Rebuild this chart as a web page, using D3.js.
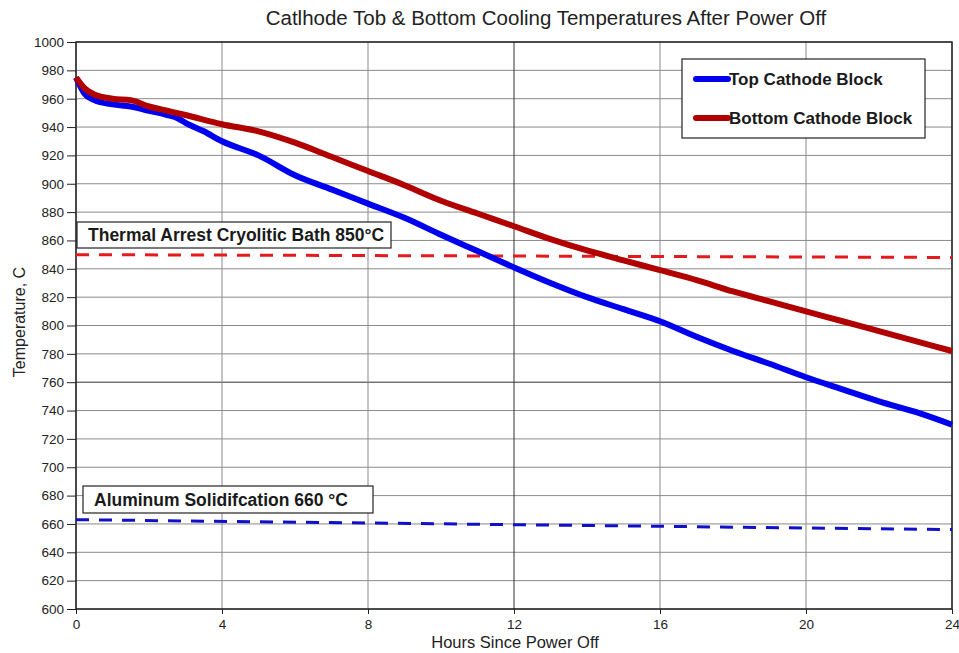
<!DOCTYPE html>
<html>
<head>
<meta charset="utf-8">
<script src="https://cdn.jsdelivr.net/npm/d3@7"></script>
<style>
  body { margin: 0; background: #fff; }
  svg { font-family: "Liberation Sans", Arial, sans-serif; }
</style>
</head>
<body>
<svg id="chart" width="959" height="653"></svg>
<script>
// hours since power off
const hours = [0, 0.25, 0.5, 1, 1.5, 2, 2.5, 2.8, 3, 3.5, 4, 5, 6, 7, 8, 9, 10, 11, 12, 13, 14, 15, 16, 17, 18, 19, 20, 21, 22, 23, 24];
const topTemps = [975, 963, 959, 956, 954.5, 951.5, 948.5, 946, 943, 937, 930, 920, 906, 896, 886, 876, 864, 852.5, 841, 830, 820, 811.5, 803, 792, 782, 773, 763.5, 755, 746.5, 739, 730];
const bottomHours = [0, 0.25, 0.5, 1, 1.5, 2, 2.5, 3, 4, 5, 6, 7, 8, 9, 10, 11, 12, 13, 14, 15, 16, 17, 18, 19, 20, 21, 22, 23, 24];
const bottomTemps = [975, 967, 963, 960, 959, 954.5, 951.5, 948.5, 942, 937, 929, 919, 909, 899, 888, 879, 870, 861, 853, 846, 839, 832, 824, 817, 810, 803, 796, 789, 782];
const xTicks = [0, 4, 8, 12, 16, 20, 24];
const yTicks = d3.range(600, 1001, 20);
// reference lines: [start, end] temperatures over 0..24 h
const bathLine = [850, 848];
const aluLine = [663, 656];

const svg = d3.select("svg#chart");
const margin = { left: 76, right: 7, top: 42, bottom: 44 };
const W = 959, H = 653;

const x = d3.scaleLinear().domain([0, 24]).range([margin.left, W - margin.right]);
const y = d3.scaleLinear().domain([600, 1000]).range([H - margin.bottom, margin.top]);

// grid
svg.append("g").selectAll("line")
   .data(yTicks)
   .enter().append("line")
           .attr("x1", x(0)).attr("x2", x(24))
           .attr("y1", d => y(d)).attr("y2", d => y(d))
           .attr("stroke", d => d === 760 ? "#333" : "#8a8a8a")
           .attr("stroke-width", 1);

svg.append("g").selectAll("line")
   .data(xTicks)
   .enter().append("line")
           .attr("x1", d => x(d)).attr("x2", d => x(d))
           .attr("y1", y(600)).attr("y2", y(1000))
           .attr("stroke", d => d === 12 ? "#333" : "#8a8a8a")
           .attr("stroke-width", 1);

// frame
svg.append("rect")
   .attr("x", x(0)).attr("y", y(1000))
   .attr("width", x(24) - x(0)).attr("height", y(600) - y(1000))
   .attr("fill", "none").attr("stroke", "#222").attr("stroke-width", 1.5);

// axes
const yAxis = svg.append("g")
   .attr("transform", `translate(${x(0)},0)`)
   .call(d3.axisLeft(y).tickValues(yTicks).tickFormat(d3.format("d")).tickSize(9).tickPadding(3));
const xAxis = svg.append("g")
   .attr("transform", `translate(0,${y(600)})`)
   .call(d3.axisBottom(x).tickValues(xTicks).tickSize(5).tickPadding(5));
[yAxis, xAxis].forEach(g => {
    g.select(".domain").remove();
    g.selectAll("line").attr("stroke", "#222");
    g.selectAll("text").attr("fill", "#222")
     .style("font-size", "13.5px")
     .style("font-family", "Liberation Sans, Arial, sans-serif");
});

// dashed reference lines
svg.append("line")
   .attr("x1", x(0)).attr("x2", x(24))
   .attr("y1", y(bathLine[0])).attr("y2", y(bathLine[1]))
   .attr("stroke", "#e41a1c").attr("stroke-width", 3)
   .attr("stroke-dasharray", "13,10");
svg.append("line")
   .attr("x1", x(0)).attr("x2", x(24))
   .attr("y1", y(aluLine[0])).attr("y2", y(aluLine[1]))
   .attr("stroke", "#1010c8").attr("stroke-width", 3)
   .attr("stroke-dasharray", "13,10");

// data lines
const line = d3.line().curve(d3.curveMonotoneX);
svg.append("path")
   .attr("d", line(hours.map((h, i) => [x(h), y(topTemps[i])])))
   .attr("fill", "none").attr("stroke", "#0000ee").attr("stroke-width", 6)
   .attr("stroke-linejoin", "round");
svg.append("path")
   .attr("d", line(bottomHours.map((h, i) => [x(h), y(bottomTemps[i])])))
   .attr("fill", "none").attr("stroke", "#b00000").attr("stroke-width", 6)
   .attr("stroke-linejoin", "round");

// annotation boxes
function labelBox(bx, by, w, h, text) {
    svg.append("rect")
       .attr("x", bx).attr("y", by).attr("width", w).attr("height", h)
       .attr("fill", "#fff").attr("stroke", "#222").attr("stroke-width", 1.2);
    svg.append("text")
       .attr("x", bx + 11).attr("y", by + h / 2 + 6)
       .attr("font-size", "17.5px").attr("font-weight", "bold").attr("fill", "#1a1a1a")
       .text(text);
}
labelBox(77, 222, 314, 26, "Thermal Arrest Cryolitic Bath 850°C");
labelBox(83, 486, 290, 27, "Aluminum Solidifcation 660 °C");

// legend
const legend = svg.append("g").attr("transform", "translate(682,59)");
legend.append("rect")
      .attr("width", 243).attr("height", 79)
      .attr("fill", "#fff").attr("stroke", "#222").attr("stroke-width", 1.2);
const legendItems = [
    { name: "Top Cathode Block", color: "#0000ee" },
    { name: "Bottom Cathode Block", color: "#b00000" }
];
const li = legend.selectAll(".item")
      .data(legendItems)
      .enter().append("g")
              .attr("class", "item")
              .attr("transform", (d, i) => `translate(0,${20 + i * 39})`);
li.append("line")
  .attr("x1", 14).attr("x2", 46)
  .attr("stroke", d => d.color).attr("stroke-width", 6).attr("stroke-linecap", "round");
li.append("text")
  .attr("x", 47).attr("y", 6)
  .attr("font-size", "17px").attr("font-weight", "bold").attr("fill", "#1a1a1a")
  .text(d => d.name);

// titles
svg.append("text")
   .attr("x", 546).attr("y", 25)
   .attr("text-anchor", "middle").attr("font-size", "20.5px").attr("fill", "#222")
   .text("Catlhode  Tob & Bottom Cooling Temperatures After Power Off");
svg.append("text")
   .attr("x", 515).attr("y", 648)
   .attr("text-anchor", "middle").attr("font-size", "16.5px").attr("fill", "#222")
   .text("Hours Since Power Off");
svg.append("text")
   .attr("transform", `translate(25,322) rotate(-90)`)
   .attr("text-anchor", "middle").attr("font-size", "16px").attr("fill", "#222")
   .text("Temperature, C");
</script>
</body>
</html>
